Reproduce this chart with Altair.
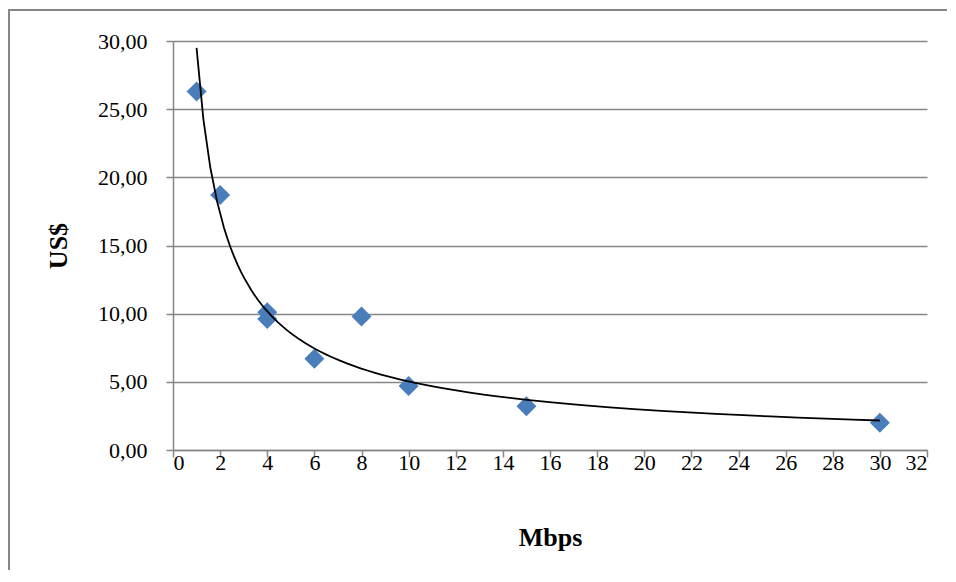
import altair as alt
import pandas as pd

# Data
mbps = [1, 2, 4, 4, 6, 8, 10, 15, 30]
usd = [26.3, 18.7, 10.1, 9.6, 6.7, 9.8, 4.7, 3.2, 2.0]
x_ticks = list(range(0, 33, 2))
y_ticks = [0, 5, 10, 15, 20, 25, 30]

df = pd.DataFrame({"Mbps": mbps, "USD": usd})
frame_df = pd.DataFrame({"k": [0]})

W, H = 754, 409
FONT = "Liberation Serif"
GREY = "#868686"

x_enc = alt.X(
    "Mbps:Q",
    scale=alt.Scale(domain=[0, 32], nice=False, zero=False),
    axis=alt.Axis(values=x_ticks, title="Mbps", grid=False, format="d",
                  labelPadding=-5, titlePadding=51),
)
y_enc = alt.Y(
    "USD:Q",
    scale=alt.Scale(domain=[0, 30], nice=False),
    axis=alt.Axis(values=y_ticks, title="US$", grid=True,
                  labelExpr="replace(format(datum.value, '.2f'), '.', ',')",
                  labelPadding=19, titlePadding=26),
)

frame_left = alt.Chart(frame_df).mark_rule(color=GREY, strokeWidth=2).encode(
    x=alt.value(-164), y=alt.value(-32), y2=alt.value(H + 300),
)
frame_top = alt.Chart(frame_df).mark_rule(color=GREY, strokeWidth=2).encode(
    y=alt.value(-31), x=alt.value(-165), x2=alt.value(W + 200),
)

points = alt.Chart(df).mark_point(
    shape="diamond", filled=True, size=400, color="#4a7ebb", opacity=1
).encode(x=x_enc, y=y_enc)

trend = alt.Chart(df).transform_regression(
    "Mbps", "USD", method="pow"
).mark_line(color="black", strokeWidth=1.8).encode(x=x_enc, y=y_enc)

chart = alt.layer(frame_left, frame_top, points, trend).properties(
    width=W, height=H,
    background="white",
    autosize=alt.AutoSizeParams(type="none"),
    padding={"left": 165, "top": 33, "right": 20, "bottom": 120},
).configure_view(
    stroke=None
).configure_axis(
    labelFont=FONT, labelFontSize=22, labelColor="black",
    titleFont=FONT, titleFontSize=26, titleFontWeight="bold", titleColor="black",
    tickColor=GREY, tickSize=7, tickWidth=1.5,
    domainColor=GREY, domainWidth=1.5,
    gridColor=GREY, gridWidth=1.5, gridOpacity=1,
)

chart.save("out.html", embed_options={"renderer": "svg", "actions": False})
